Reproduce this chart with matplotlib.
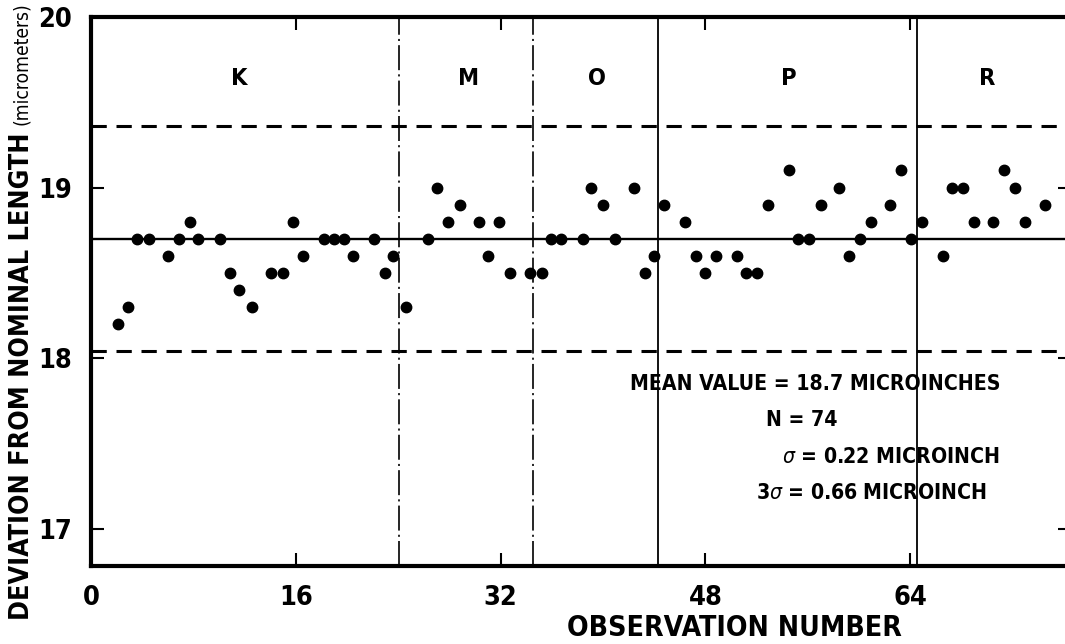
import matplotlib
matplotlib.use('Agg')
import matplotlib.pyplot as plt
from matplotlib import font_manager

plt.rcParams['lines.scale_dashes'] = False

# pick a narrow face if one is installed
fonts = font_manager.fontManager.ttflist
names = {f.name for f in fonts}
stretch = 'normal'
if 'Liberation Sans Narrow' in names:
    family = 'Liberation Sans Narrow'
elif any(f.name == 'DejaVu Sans' and f.stretch == 'condensed' for f in fonts):
    family = 'DejaVu Sans'
    stretch = 'condensed'
elif 'Roboto Condensed' in names:
    family = 'Roboto Condensed'
elif 'Roboto' in names:
    family = 'Roboto'
else:
    family = 'DejaVu Sans'
plt.rcParams['font.family'] = [family, 'DejaVu Sans']
plt.rcParams['font.stretch'] = stretch
plt.rcParams['mathtext.fontset'] = 'dejavusans'

# observation positions (as drawn) and measured values
obs_x = [2.1, 2.9, 3.6, 4.5, 6.0, 6.9, 7.7, 8.4, 10.1, 10.9, 11.6, 12.6,
         14.1, 15.0, 15.8, 16.6, 18.2, 19.0, 19.8, 20.5, 22.1, 23.0, 23.6,
         24.6, 26.3, 27.0, 27.9, 28.8, 30.3, 31.0, 31.9, 32.7, 34.3,
         35.2, 35.9, 36.7, 38.4, 39.1, 40.0, 40.9, 42.4, 43.3, 44.0,
         44.8, 46.4, 47.3, 48.0, 48.8, 50.5, 51.2, 52.0, 52.9, 54.5,
         55.2, 56.1, 57.0, 58.4, 59.2, 60.1, 60.9, 62.4, 63.3, 64.1,
         64.9, 66.6, 67.3, 68.1, 69.0, 70.5, 71.3, 72.2, 73.0, 74.5]
obs_y = [18.2, 18.3, 18.7, 18.7, 18.6, 18.7, 18.8, 18.7, 18.7, 18.5, 18.4, 18.3,
         18.5, 18.5, 18.8, 18.6, 18.7, 18.7, 18.7, 18.6, 18.7, 18.5, 18.6,
         18.3, 18.7, 19.0, 18.8, 18.9, 18.8, 18.6, 18.8, 18.5, 18.5,
         18.5, 18.7, 18.7, 18.7, 19.0, 18.9, 18.7, 19.0, 18.5, 18.6,
         18.9, 18.8, 18.6, 18.5, 18.6, 18.6, 18.5, 18.5, 18.9, 19.1,
         18.7, 18.7, 18.9, 19.0, 18.6, 18.7, 18.8, 18.9, 19.1, 18.7,
         18.8, 18.6, 19.0, 19.0, 18.8, 18.8, 19.1, 19.0, 18.8, 18.9]

mean_value = 18.7
three_sigma = 0.66

groups = ['K', 'M', 'O', 'P', 'R']
group_label_x = [11.6, 29.5, 39.5, 54.5, 70.0]
boundaries = [24.1, 34.5, 44.3, 64.5]
boundary_styles = ['dashdot', 'dashdot', 'solid', 'solid']

xticks = [0, 16, 32, 48, 64]
yticks = [17, 18, 19, 20]

stats_lines = ['MEAN VALUE = 18.7 MICROINCHES', 'N = 74',
               r'$\sigma$ = 0.22 MICROINCH', r'3$\sigma$ = 0.66 MICROINCH']

W, H = 1065, 644
fig = plt.figure(figsize=(W / 100, H / 100), dpi=100)
ax = fig.add_axes([0.0854, 0.1211, 0.9207, 0.8525])
ax.set_xlim(0, 76.6)
ax.set_ylim(16.78, 20)

ax.axhline(mean_value, color='black', lw=1.7)
for lim in (mean_value - three_sigma, mean_value + three_sigma):
    ax.axhline(lim, color='black', lw=2.2, linestyle=(0, (11, 7)))

for bx, st in zip(boundaries, boundary_styles):
    if st == 'solid':
        ax.axvline(bx, color='black', lw=1.3)
    else:
        ax.axvline(bx, color='black', lw=1.2, linestyle=(0, (18, 3, 1.5, 3)))

ax.plot(obs_x, obs_y, 'o', color='black', ms=7.5, zorder=5)

for sp in ax.spines.values():
    sp.set_linewidth(3)
ax.set_xticks(xticks)
ax.set_yticks(yticks)
ax.tick_params(direction='in', length=9.5, width=1.5, top=True, right=True)

# size the main stats line to the reference width, scale the rest from it
renderer = fig.canvas.get_renderer()
probe = fig.text(0, 0, stats_lines[0], fontsize=18, fontweight='bold')
scale = 370 / probe.get_window_extent(renderer).width
probe.remove()
scale = min(scale, 1.0)

for g, gx in zip(groups, group_label_x):
    ax.text(gx, 19.64, g, ha='center', va='center', fontsize=20 * scale,
            fontweight='bold')

ax.tick_params(labelsize=23 * scale, pad=14)
for lab in ax.get_xticklabels() + ax.get_yticklabels():
    lab.set_fontweight('bold')

# statistics block
fs = 18 * scale
fig.text(1000 / W, 1 - 384 / H, stats_lines[0], ha='right', va='center',
         fontsize=fs, fontweight='bold')
fig.text(766 / W, 1 - 420 / H, stats_lines[1], ha='left', va='center',
         fontsize=fs, fontweight='bold')
fig.text(1000 / W, 1 - 457 / H, stats_lines[2], ha='right', va='center',
         fontsize=fs, fontweight='bold')
fig.text(756 / W, 1 - 493 / H, stats_lines[3], ha='left', va='center',
         fontsize=fs, fontweight='bold')

xl = fig.text(734 / W, 1 - 628 / H, 'OBSERVATION NUMBER', ha='center',
              va='center', fontsize=20, fontweight='bold')
xl.set_fontsize(20 * 335 / xl.get_window_extent(renderer).width)

yl = fig.text(22 / W, 1 - 620 / H, 'DEVIATION FROM NOMINAL LENGTH', rotation=90,
              ha='center', va='bottom', fontsize=19, fontweight='bold')
yl.set_fontsize(19 * 485 / yl.get_window_extent(renderer).height)
ym = fig.text(22 / W, 1 - 2 / H, '(micrometers)', rotation=90,
              ha='center', va='top', fontsize=16)
ym.set_fontsize(16 * 123 / ym.get_window_extent(renderer).height)

fig.savefig('out.png', dpi=100)
